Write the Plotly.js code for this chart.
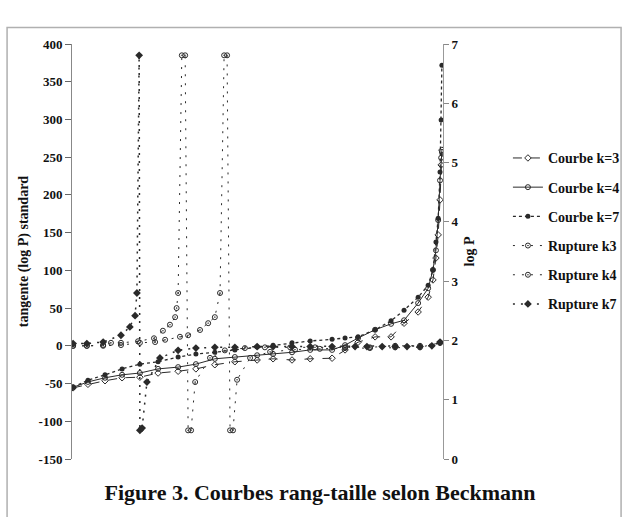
<!DOCTYPE html>
<html>
<head>
<meta charset="utf-8">
<script src="https://cdn.plot.ly/plotly-3.0.1.min.js"></script>
<style>html,body{margin:0;padding:0;background:#fff;}#chart{width:630px;height:517px;}</style>
</head>
<body>
<div id="chart"></div>
<script>
// rank positions (hidden x scale, 0..100)
const rang = [0.3, 4.3, 8.9, 13.5, 18.3, 23.2, 28.6, 33.4, 38.5, 43.9, 49.9, 54.2, 59.3, 64.2, 70.1, 73.6, 77.1, 81.7, 86.0, 89.5, 93.3, 96.0, 97.3, 98.1, 98.7, 99.2, 99.5, 99.7];
// log P curves (right axis)
const courbeK3 = [1.20,1.26,1.32,1.37,1.38,1.45,1.48,1.52,1.59,1.64,1.67,1.69,1.67,1.69,1.70,1.84,1.97,2.06,2.06,2.29,2.48,2.73,3.02,3.39,3.78,4.37,4.96,5.21];
const courbeK4 = [1.21,1.30,1.37,1.42,1.45,1.52,1.55,1.60,1.69,1.72,1.75,1.77,1.80,1.84,1.84,1.92,2.04,2.18,2.28,2.34,2.63,2.88,3.19,3.52,4.03,4.70,5.08,5.18];
const courbeK7 = [1.21,1.33,1.42,1.52,1.60,1.64,1.72,1.77,1.80,1.84,1.89,1.92,1.96,1.99,2.02,2.04,2.06,2.18,2.33,2.51,2.73,2.93,3.19,3.66,4.06,4.84,5.72,6.64];

// standardised tangent (left axis)
const ruptK3x = [0.3,4.0,8.4,13.2,18.3,22.4,25.1,29.1,31.3,34.5,36.7,38.5,39.9,41.0,41.8,42.6,43.4,44.5,48.0,53.4,60.1,66.8,73.6,80.3,87.1,93.8,99.2];
const ruptK3y = [0,0,0,1,4,5,8,12,14,21,30,38,70,385,385,-112,-112,-45,-16,-8,-5,-4,-3,-3,-2,-2,4];
const ruptK4x = [0.3,4.0,8.4,10.5,13.2,17.8,22.1,24.5,26.4,27.8,28.2,28.6,29.6,30.5,31.3,32.1,33.2,37.2,41.2,46.6,52.0,58.8,65.5,73.6,80.3,87.1,93.8,99.2];
const ruptK4y = [0,0,1,4,4,6,10,20,28,38,50,70,385,385,-112,-112,-48,-16,-6,-3,-2,-2,-2,-2,-2,0,0,4];
const ruptK7x = [0.3,4.0,8.4,13.2,15.6,17.0,17.5,18.1,18.3,18.9,20.2,23.7,28.6,33.4,38.5,43.9,49.9,54.2,59.3,64.2,70.1,76.3,79.5,83.6,87.1,90.3,93.8,97.0,99.2];
const ruptK7y = [3,3,5,14,25,40,70,385,-112,-109,-48,-16,-6,-3,-2,-2,-1,-1,-1,-1,-1,-1,-1,-1,-1,-1,-1,0,5];

// axis ticks
const leftTicks = [-150,-100,-50,0,50,100,150,200,250,300,350,400];
const leftTickText = ['-150','-100','-50','0','50','100','150','200','250','300','350','400'];
const rightTicks = [0,1,2,3,4,5,6,7];

const names = ['Courbe k=3','Courbe k=4','Courbe k=7','Rupture k3','Rupture k4','Rupture k7'];

const ink = '#2a2a2a';
const serif = 'Liberation Serif, Times New Roman, serif';

const traces = [
  {x: rang, y: courbeK3, yaxis: 'y2', name: names[0], mode: 'lines+markers',
   line: {color: ink, width: 1, dash: 'dash'}, marker: {symbol: 'diamond-open', size: 5, color: ink, line:{width:1}}},
  {x: rang, y: courbeK4, yaxis: 'y2', name: names[1], mode: 'lines+markers',
   line: {color: ink, width: 1}, marker: {symbol: 'circle-open', size: 5, color: ink, line:{width:1}}},
  {x: rang, y: courbeK7, yaxis: 'y2', name: names[2], mode: 'lines+markers',
   line: {color: ink, width: 1.3, dash: 'dot'}, marker: {symbol: 'circle', size: 5, color: ink}},
  {x: ruptK3x, y: ruptK3y, yaxis: 'y', name: names[3], mode: 'lines+markers',
   line: {color: ink, width: 1, dash: '2px,7px'}, marker: {symbol: 'circle-open-dot', size: 5, color: ink, line:{width:1}}},
  {x: ruptK4x, y: ruptK4y, yaxis: 'y', name: names[4], mode: 'lines+markers',
   line: {color: ink, width: 1, dash: '2px,7px'}, marker: {symbol: 'circle-open-dot', size: 5, color: ink, line:{width:1}}},
  {x: ruptK7x, y: ruptK7y, yaxis: 'y', name: names[5], mode: 'lines+markers',
   line: {color: ink, width: 1.5, dash: '2px,6px'}, marker: {symbol: 'diamond', size: 6, color: ink}}
];
traces.forEach((t, i) => { t.legendgroup = 'g' + i; t.cliponaxis = true; });

const layout = {
  width: 630, height: 517,
  margin: {l: 72, r: 187, t: 44, b: 58, autoexpand: false},
  paper_bgcolor: '#fff', plot_bgcolor: '#fff',
  font: {family: serif, color: '#111'},
  showlegend: true,
  legend: {x: 1.175, xanchor: 'left', y: 0.763, yanchor: 'top', tracegroupgap: 8,
           font: {family: serif, size: 14, color: '#111', weight: 'bold'}, bgcolor: 'rgba(0,0,0,0)'},
  xaxis: {range: [0, 100], visible: false, showgrid: false, zeroline: false},
  yaxis: {range: [-150, 400], tickmode: 'array', tickvals: leftTicks, ticktext: leftTickText,
          showline: true, linecolor: '#888', linewidth: 1,
          ticks: 'outside', ticklen: 6, tickcolor: '#666', showgrid: false, zeroline: false,
          tickfont: {family: serif, size: 13, color: '#111', weight: 'bold'},
          title: {text: 'tangente (log P) standard', standoff: 6, font: {family: serif, size: 14, color: '#111', weight: 'bold'}}},
  yaxis2: {range: [0, 7], tickmode: 'array', tickvals: rightTicks, overlaying: 'y', side: 'right',
           showline: true, linecolor: '#999', linewidth: 1,
           ticks: 'outside', ticklen: 5, tickcolor: '#888', showgrid: false, zeroline: false,
           tickfont: {family: serif, size: 13, color: '#111', weight: 'bold'},
           title: {text: 'log P', standoff: 6, font: {family: serif, size: 14, color: '#111', weight: 'bold'}}},
  title: {text: 'Figure 3. Courbes rang-taille selon Beckmann', x: 0.508, xanchor: 'center',
          y: 0.048, yanchor: 'middle', yref: 'container',
          font: {family: serif, size: 22, color: '#111', weight: 'bold'}},
  shapes: [
    {type: 'rect', xref: 'paper', yref: 'paper', x0: -0.175, x1: 1.48, y0: -0.2, y1: 1.04,
     line: {color: '#b0b0b0', width: 1.5}, fillcolor: 'rgba(0,0,0,0)', layer: 'below'}
  ]
};

Plotly.newPlot('chart', traces, layout, {displayModeBar: false, staticPlot: true});
</script>
</body>
</html>
